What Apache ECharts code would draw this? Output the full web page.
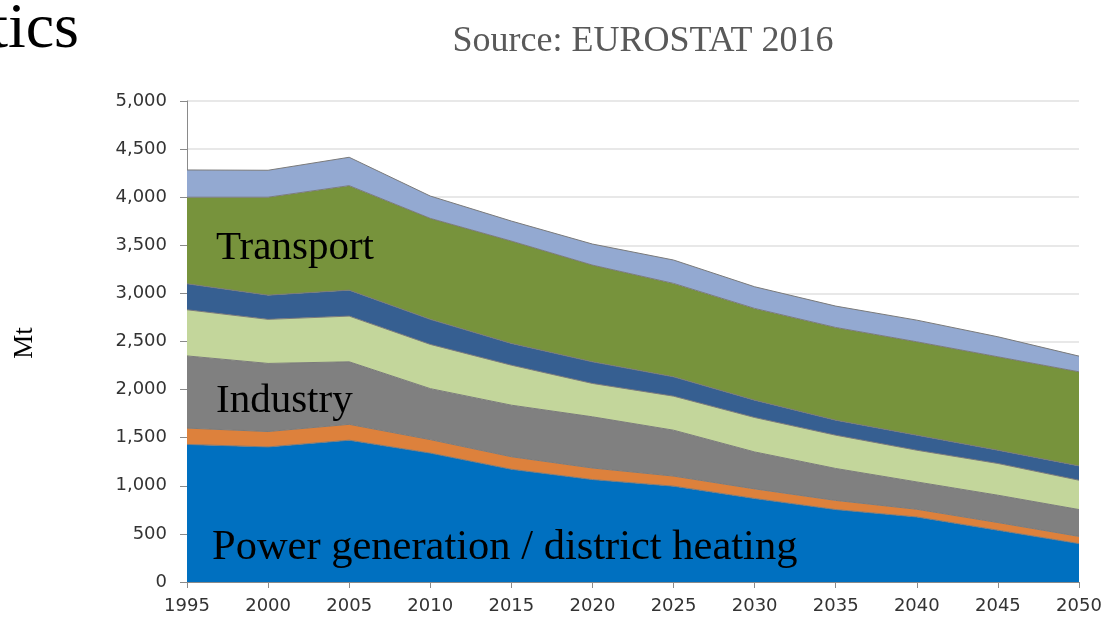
<!DOCTYPE html>
<html>
<head>
<meta charset="utf-8">
<script src="https://cdn.jsdelivr.net/npm/echarts@6/dist/echarts.min.js"></script>
<style>
html,body{margin:0;padding:0;background:#fff;}
#chart{width:1106px;height:618px;}
</style>
</head>
<body>
<div id="chart"></div>
<script>
var years = ['1995','2000','2005','2010','2015','2020','2025','2030','2035','2040','2045','2050'];
var yTicks = {min: 0, max: 5000, interval: 500};
var power     = [1430, 1404, 1474, 1340, 1172, 1065, 996, 868, 753, 676, 538, 399];
var energyOth = [170, 160, 165, 140, 130, 120, 105, 100, 95, 80, 80, 75];
var industry  = [750, 708, 650, 530, 536, 532, 477, 384, 332, 284, 284, 279];
var household = [480, 458, 475, 460, 416, 347, 354, 358, 346, 330, 330, 305];
var services  = [270, 252, 270, 260, 226, 225, 201, 180, 156, 156, 138, 149];
var transport = [900, 1018, 1086, 1050, 1064, 1005, 971, 954, 964, 971, 971, 978];
var other     = [283, 280, 295, 232, 208, 219, 243, 225, 222, 225, 208, 163];

var layers = [
  {name: 'Power generation / district heating', data: power, color: '#0070C0'},
  {name: 'Other energy', data: energyOth, color: '#DD813C'},
  {name: 'Industry', data: industry, color: '#808080'},
  {name: 'Households', data: household, color: '#C3D69B'},
  {name: 'Services', data: services, color: '#365F91'},
  {name: 'Transport', data: transport, color: '#77933C'},
  {name: 'Other', data: other, color: '#93A9D1'}
];

var chart = echarts.init(document.getElementById('chart'));
var serif = '"Liberation Serif", "Times New Roman", serif';
chart.setOption({
  animation: false,
  grid: {left: 187, right: 27, top: 101, bottom: 36, containLabel: false},
  xAxis: {
    type: 'category', data: years, boundaryGap: false,
    axisLine: {lineStyle: {color: '#8a8a8a', width: 1}},
    axisTick: {show: true, length: 6, alignWithLabel: true, lineStyle: {color: '#8a8a8a'}},
    axisLabel: {interval: 0, margin: 15, color: '#333', fontFamily: '"DejaVu Sans", sans-serif', fontSize: 18},
    splitLine: {show: false}
  },
  yAxis: {
    type: 'value', min: yTicks.min, max: yTicks.max, interval: yTicks.interval,
    axisLine: {show: true, lineStyle: {color: '#8a8a8a', width: 1}},
    axisTick: {show: true, length: 7, lineStyle: {color: '#8a8a8a'}},
    axisLabel: {margin: 20, color: '#333', fontFamily: '"DejaVu Sans", sans-serif', fontSize: 18,
      formatter: function (v) { return v.toLocaleString('en-US'); }},
    splitLine: {show: true, lineStyle: {color: '#e0e0e0', width: 1.5}}
  },
  series: layers.map(function (l) {
    return {
      name: l.name, type: 'line', stack: 'total', data: l.data,
      symbol: 'none', smooth: false,
      lineStyle: {color: '#7a7a7a', width: 1},
      areaStyle: {color: l.color, opacity: 1},
      itemStyle: {color: l.color},
      z: 2
    };
  }),
  graphic: [
    {type: 'text', x: 79, y: -2, style: {text: 'tics', font: '64px ' + serif, fill: '#000', align: 'right', verticalAlign: 'top'}},
    {type: 'text', x: 643, y: 24, style: {text: 'Source: EUROSTAT 2016', font: '36px ' + serif, fill: '#595959', align: 'center', verticalAlign: 'top'}},
    {type: 'text', x: 25, y: 343, rotation: Math.PI / 2, style: {text: 'Mt', font: '27px ' + serif, fill: '#000', align: 'center', verticalAlign: 'middle'}},
    {type: 'text', x: 216, y: 228, z: 10, style: {text: 'Transport', font: '41px ' + serif, fill: '#000', align: 'left', verticalAlign: 'top'}},
    {type: 'text', x: 216, y: 381, z: 10, style: {text: 'Industry', font: '41px ' + serif, fill: '#000', align: 'left', verticalAlign: 'top'}},
    {type: 'text', x: 212, y: 526, z: 10, style: {text: 'Power generation / district heating', font: '42.5px ' + serif, fill: '#000', align: 'left', verticalAlign: 'top'}}
  ]
});
</script>
</body>
</html>
